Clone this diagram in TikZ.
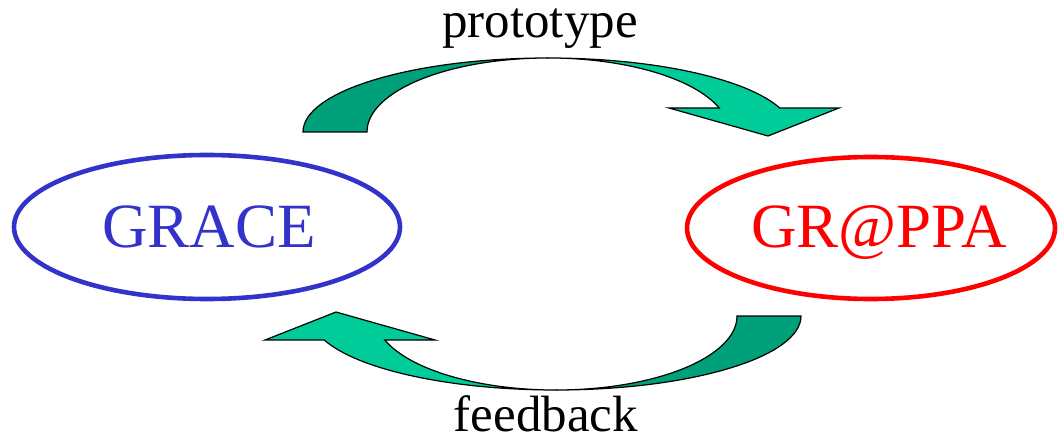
\documentclass[tikz,border=0pt]{standalone}
\usepackage{fontspec}
\setmainfont{Liberation Serif}
\definecolor{darkgr}{HTML}{00A07A}
\definecolor{lightgr}{HTML}{00CC99}
\definecolor{graceblue}{HTML}{3333CC}
\tikzset{
  back/.style={fill=darkgr, draw=black, line width=1.2pt, line join=miter},
  front/.style={fill=lightgr, draw=black, line width=1.2pt, line join=miter},
  big/.style={font=\fontsize{63}{70}\selectfont, anchor=base, inner sep=0pt},
  lbl/.style={font=\fontsize{51}{58}\selectfont, anchor=base, inner sep=0pt},
}
\begin{document}
\begin{tikzpicture}[x=1pt,y=-1pt]
\useasboundingbox (0,0) rectangle (1059,443);
% ellipses
\draw[graceblue, line width=4.6pt] (207,227) ellipse [x radius=193pt, y radius=72pt];
\draw[red, line width=4.6pt] (871,228) ellipse [x radius=184pt, y radius=71pt];
\node[big, text=graceblue] (grace) at (209,248) {GRACE};
\node[big, text=red] (gruppa) at (879,248) {GR@PPA};
% curved arrows
\newcommand{\curvedarrow}{%
  \path[back] (303,132) arc[start angle=180, end angle=90, x radius=245pt, y radius=74pt]
     arc[start angle=90, end angle=180, x radius=181pt, y radius=74pt] -- cycle;
  \path[front] (548,58) arc[start angle=90, end angle=18.9, x radius=245pt, y radius=74pt]
     -- (839,108) -- (768,136) -- (669,108) -- (719.2,108)
     arc[start angle=18.9, end angle=90, x radius=181pt, y radius=74pt] -- cycle;
}
\curvedarrow
\begin{scope}[rotate around={180:(552,224)}]
\curvedarrow
\end{scope}
\node[lbl] (proto) at (540,38) {prototype};
\node[lbl, text depth=0pt] (feed) at (546,431) {feedback};
\end{tikzpicture}
\end{document}
